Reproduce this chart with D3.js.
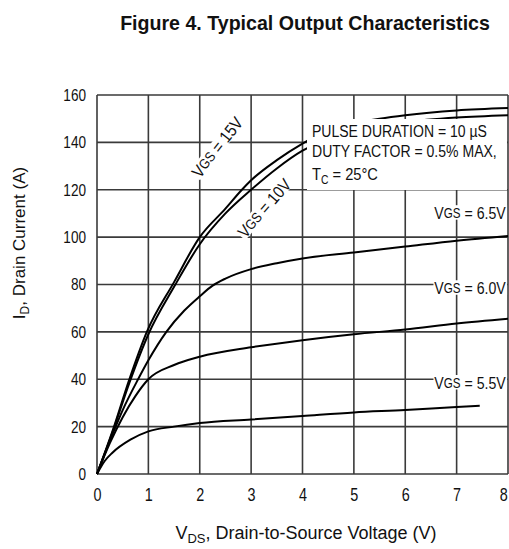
<!DOCTYPE html>
<html>
<head>
<meta charset="utf-8">
<script src="https://cdn.jsdelivr.net/npm/d3@7"></script>
<style>
  html, body { margin: 0; padding: 0; background: #fff; }
  svg { display: block; }
</style>
</head>
<body>
<svg id="chart" width="509" height="549"></svg>
<script>
// ---- data ----
const xTicks = [0, 1, 2, 3, 4, 5, 6, 7, 8];
const yTicks = [0, 20, 40, 60, 80, 100, 120, 140, 160];

const curveVgs15 = [[0,0],[0.3,18],[0.63,40],[0.97,60],[1.5,81],[2,100],[2.5,112],[2.82,120],[3,124],[3.5,132.5],[4,139.5],[4.5,145],[5,148],[5.5,150],[6,151.5],[7,153.5],[8,154.5]];
const curveVgs10 = [[0,0],[0.3,17.5],[0.63,38.5],[1,59],[1.5,79],[2,97],[2.5,110],[3,120],[3.5,129],[4,136.5],[4.5,141.5],[5,144.5],[6,148.5],[7,150.5],[8,151.5]];
const curveVgs65 = [[0,0],[0.25,14],[0.5,27],[0.8,40],[1,48],[1.35,60],[1.7,69],[2,75],[2.25,79.5],[2.5,82.5],[3,86.5],[3.5,89],[4,91],[5,93.5],[6,96],[7,98.5],[8,100.5]];
const curveVgs60 = [[0,0],[0.25,13],[0.5,24],[0.75,33],[1,40],[1.5,46],[2,49.5],[3,53.5],[4,56.5],[5,59],[6,61],[7,63.5],[8,65.5]];
const curveVgs55 = [[0,0],[0.15,5.5],[0.3,9],[0.65,14.5],[1,18],[1.5,20],[2,21.5],[3,23],[4,24.5],[5,26],[6,27],[7,28.3],[7.45,28.8]];

const seriesNames = ["15V", "10V", "6.5V", "6.0V", "5.5V"];
const annotationLines = ["PULSE DURATION = 10 \u00B5S", "DUTY FACTOR = 0.5% MAX,"];

// ---- drawing ----
const narrow = "'Liberation Sans Narrow', 'Arial Narrow', 'Liberation Sans', Arial, sans-serif";
const regular = "'Liberation Sans', Arial, sans-serif";
const svg = d3.select("#chart");

const x = d3.scaleLinear().domain([0, 8]).range([97, 508]);
const y = d3.scaleLinear().domain([0, 160]).range([474, 95]);

// condense the text inside group g horizontally to a target width
function condense(g, textNode, width) {
  const w = textNode.getBBox().width;
  const s = Math.min(1, width / w);
  const prev = g.attr("transform") || "";
  g.attr("transform", prev + ` scale(${s},1)`);
  return s;
}

const gridColor = "#3a3a3a";

// grid
const grid = svg.append("g");
grid.selectAll("line.v").data(xTicks).join("line")
  .attr("x1", d => x(d)).attr("x2", d => x(d))
  .attr("y1", y(0)).attr("y2", y(160))
  .attr("stroke", gridColor).attr("stroke-width", 1.6);
grid.selectAll("line.h").data(yTicks).join("line")
  .attr("x1", x(0)).attr("x2", x(8))
  .attr("y1", d => y(d)).attr("y2", d => y(d))
  .attr("stroke", gridColor).attr("stroke-width", 1.6);

// axes (labels only)
const yAxis = svg.append("g").attr("transform", `translate(${x(0)},0)`)
  .call(d3.axisLeft(y).tickValues(yTicks).tickSize(0).tickPadding(11));
yAxis.select(".domain").remove();
yAxis.selectAll("text").attr("font-family", narrow).attr("font-size", 17).attr("fill", "#111")
  .attr("x", 0).attr("transform", "translate(-11,0) scale(0.8,1)");

const xAxis = svg.append("g").attr("transform", `translate(0,${y(0)})`)
  .call(d3.axisBottom(x).tickValues(xTicks).tickSize(0).tickPadding(14));
xAxis.select(".domain").remove();
xAxis.selectAll("text").attr("font-family", narrow).attr("font-size", 18).attr("fill", "#111")
  .attr("transform", "scale(0.8,1)");
xAxis.selectAll("text").filter(d => d === 8).attr("text-anchor", "end").attr("x", -1);

// curves
const line = d3.line().x(d => x(d[0])).y(d => y(d[1])).curve(d3.curveMonotoneX);
const curves = [curveVgs15, curveVgs10, curveVgs65, curveVgs60, curveVgs55];
svg.append("g").selectAll("path").data(curves).join("path")
  .attr("d", line)
  .attr("fill", "none").attr("stroke", "#000").attr("stroke-width", 2)
  .attr("stroke-linejoin", "round");

// annotation box
svg.append("rect").attr("x", 307).attr("y", 119).attr("width", 200).attr("height", 71).attr("fill", "#fff");
const annWidths = [175, 185];
annotationLines.forEach((txt, i) => {
  const g = svg.append("g").attr("transform", `translate(312,${137 + i * 20})`);
  const t = g.append("text").attr("font-family", narrow).attr("font-size", 17).attr("fill", "#111").text(txt);
  condense(g, t.node(), annWidths[i]);
});
{
  const g = svg.append("g").attr("transform", "translate(312,180)");
  const tc = g.append("text").attr("font-family", narrow).attr("font-size", 17).attr("fill", "#111");
  tc.append("tspan").text("T");
  tc.append("tspan").attr("font-size", 12).attr("dy", 4).text("C");
  tc.append("tspan").attr("dy", -4).text(" = 25\u00B0C");
  condense(g, tc.node(), 66);
}

// VGS labels
function vgsLabel(g, value) {
  const t = g.append("text").attr("font-family", narrow).attr("font-size", 17).attr("fill", "#111")
    .attr("text-anchor", "middle").attr("dominant-baseline", "central");
  t.append("tspan").text("V");
  t.append("tspan").attr("font-size", 14).text("GS");
  t.append("tspan").text(" = " + value);
  condense(g, t.node(), 72);
  const bb = t.node().getBBox();
  g.insert("rect", "text").attr("x", bb.x - 1).attr("y", bb.y + 2).attr("width", bb.width + 2).attr("height", bb.height - 4).attr("fill", "#fff");
  return g;
}
// rotated labels along the two upper curves
vgsLabel(svg.append("g").attr("transform", "translate(217,147) rotate(-52)"), seriesNames[0]);
vgsLabel(svg.append("g").attr("transform", "translate(264,208) rotate(-49)"), seriesNames[1]);
// right-side labels
const rightLabels = [[seriesNames[2], 110], [seriesNames[3], 80], [seriesNames[4], 40]];
rightLabels.forEach(([name, v], i) => {
  const cy = i === 0 ? y(v) - 1 : y(v) + 3;
  vgsLabel(svg.append("g").attr("transform", `translate(470,${cy})`), name);
});

// title
{
  const g = svg.append("g").attr("transform", "translate(305,30)");
  const t = g.append("text").attr("text-anchor", "middle")
    .attr("font-family", narrow).attr("font-weight", "bold").attr("font-size", 21).attr("fill", "#111")
    .text("Figure 4. Typical Output Characteristics");
  condense(g, t.node(), 370);
}

// axis titles
{
  const g = svg.append("g").attr("transform", "translate(306,539)");
  const xt = g.append("text").attr("text-anchor", "middle")
    .attr("font-family", regular).attr("font-size", 18).attr("fill", "#111");
  xt.append("tspan").text("V");
  xt.append("tspan").attr("font-size", 13).attr("dy", 4).text("DS");
  xt.append("tspan").attr("dy", -4).text(", Drain-to-Source Voltage (V)");
  condense(g, xt.node(), 272);
}
{
  const yt = svg.append("text").attr("transform", "translate(25,243) rotate(-90)").attr("text-anchor", "middle")
    .attr("font-family", regular).attr("font-size", 17).attr("fill", "#111");
  yt.append("tspan").text("I");
  yt.append("tspan").attr("font-size", 12).attr("dy", 4).text("D");
  yt.append("tspan").attr("dy", -4).text(", Drain Current (A)");
}
</script>
</body>
</html>
